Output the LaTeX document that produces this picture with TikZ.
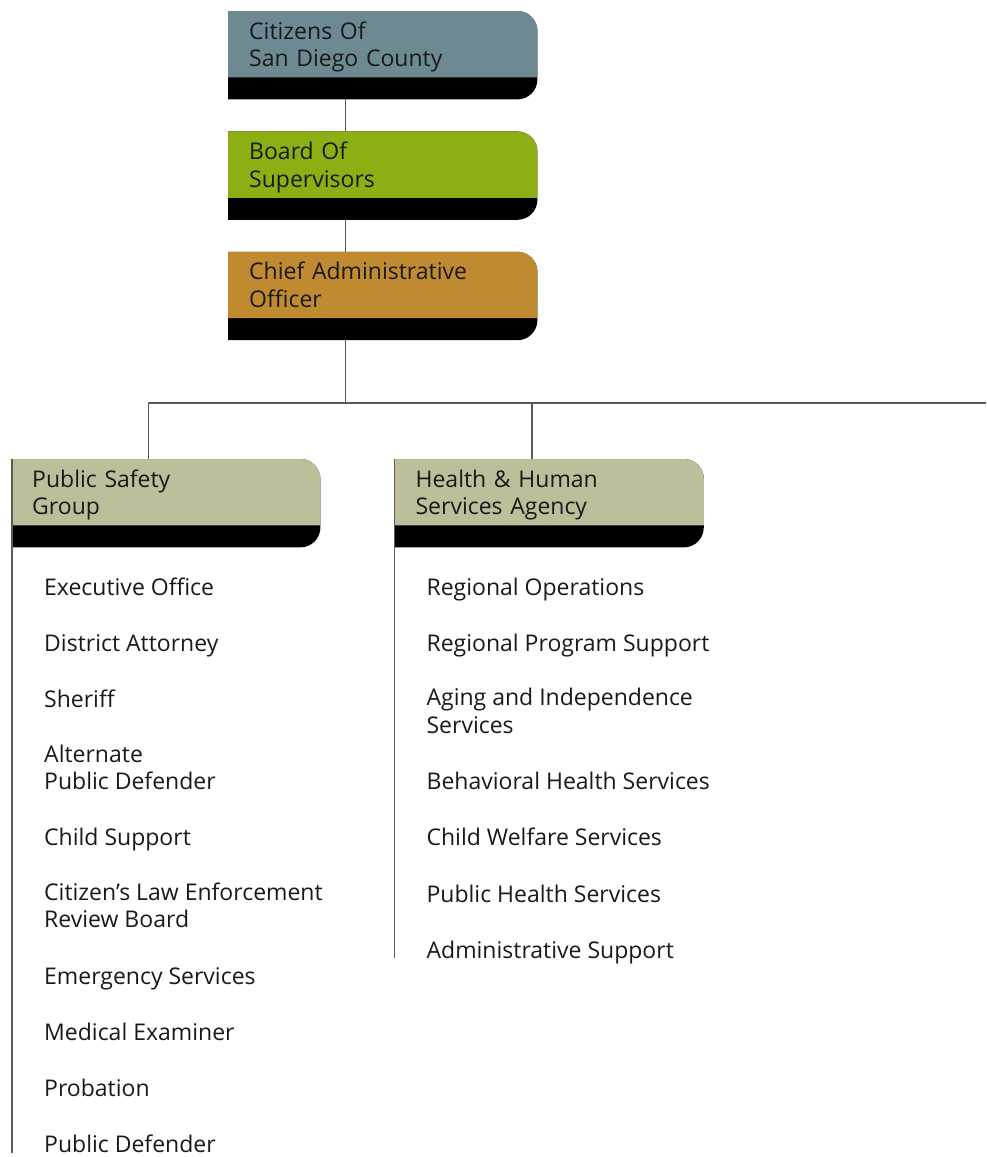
\documentclass[tikz,border=0pt]{standalone}
\usepackage{fontspec}
\setmainfont{Open Sans}
\usetikzlibrary{positioning,backgrounds}
\definecolor{citcol}{HTML}{6D8A92}
\definecolor{boscol}{HTML}{8CAF14}
\definecolor{caocol}{HTML}{C08A30}
\definecolor{grpcol}{HTML}{BEBE9B}

\begin{document}
\begin{tikzpicture}[
		x=1pt, y=1pt,
		node distance=54pt,
		every node/.style = {font=\fontsize{23}{27.5}\selectfont, text=black!90},
		unit/.style = {text width=267pt, inner xsep=21pt, inner ysep=0pt, minimum height=66pt, align=left,
			text depth=29.3pt, execute at begin node=\strut},
		item/.style = {inner sep=0pt, align=left, text depth=8.25pt, execute at begin node=\strut},
		link/.style = {draw=black!65, line width=1.3pt}
	]
	\useasboundingbox (0,0) rectangle (986,-1157);
	% Top of the chart.
	\node[unit, anchor=north west] (cit) at (228,-11) {Citizens Of\\San Diego County};
	\node[unit, below=of cit] (bos) {Board Of\\Supervisors};
	\node[unit, below=of bos] (cao) {Chief Administrative\\Officer};
	% Groups.
	\node[unit, anchor=north west] (psg) at (11,-459) {Public Safety\\Group};
	\node[unit, right=74pt of psg] (hhs) {Health \& Human\\Services Agency};
	% Public Safety Group.
	\node[item, below right=50.5pt and 33pt of psg.south west] (exo) {Executive Office};
	\node[item, below right=28.3pt and 0pt of exo.south west] (da) {District Attorney};
	\node[item, below right=28.3pt and 0pt of da.south west] (sh) {Sheriff};
	\node[item, below right=28.3pt and 0pt of sh.south west] (apd) {Alternate\\Public Defender};
	\node[item, below right=28.3pt and 0pt of apd.south west] (cs) {Child Support};
	\node[item, below right=28.3pt and 0pt of cs.south west] (clerb) {Citizen's Law Enforcement\\Review Board};
	\node[item, below right=28.3pt and 0pt of clerb.south west] (es) {Emergency Services};
	\node[item, below right=28.3pt and 0pt of es.south west] (me) {Medical Examiner};
	\node[item, below right=28.3pt and 0pt of me.south west] (pr) {Probation};
	\node[item, below right=28.3pt and 0pt of pr.south west] (pd) {Public Defender};
	% Health & Human Services Agency.
	\node[item, below right=50.5pt and 32pt of hhs.south west] (ro) {Regional Operations};
	\node[item, below right=28.3pt and 0pt of ro.south west] (rps) {Regional Program Support};
	\node[item, below right=28.3pt and 0pt of rps.south west] (ais) {Aging and Independence\\Services};
	\node[item, below right=28.3pt and 0pt of ais.south west] (bhs) {Behavioral Health Services};
	\node[item, below right=28.3pt and 0pt of bhs.south west] (cws) {Child Welfare Services};
	\node[item, below right=28.3pt and 0pt of cws.south west] (phs) {Public Health Services};
	\node[item, below right=28.3pt and 0pt of phs.south west] (as) {Administrative Support};

	\begin{scope}[on background layer]
		\foreach \n/\c in {cit/citcol, bos/boscol, cao/caocol, psg/grpcol, hhs/grpcol} {
			\fill[black] (\n.north west) -- ([xshift=-20pt]\n.north east)
				arc[start angle=90, end angle=0, radius=20pt] -- ([yshift=-2pt]\n.south east)
				arc[start angle=0, end angle=-90, radius=20pt] -- ([yshift=-22pt]\n.south west) -- cycle;
			\fill[\c] (\n.north west) -- ([xshift=-20pt]\n.north east)
				arc[start angle=90, end angle=0, radius=20pt] -- (\n.south east) -- (\n.south west) -- cycle;
			\coordinate (\n-b) at ([xshift=-37pt, yshift=-22pt]\n.south);
		}
	\end{scope}

	\coordinate (cut) at (986,-403);
	\coordinate (jn) at (cao-b |- cut);
	\draw[link] (cit-b) -- (cit-b |- bos.north);
	\draw[link] (bos-b) -- (bos-b |- cao.north);
	\draw[link] (cao-b) -- (jn);
	\draw[link] ([xshift=-17pt]psg.north) |- (cut);
	\draw[link] ([xshift=-17pt]hhs.north) -- ([xshift=-17pt]hhs.north |- cut);
	\draw[link] ([xshift=1pt]psg.north west) -- ([xshift=1pt]psg.north west |- pd.base);
	\draw[link] (hhs.north west) -- (hhs.north west |- as.base);
\end{tikzpicture}
\end{document}
